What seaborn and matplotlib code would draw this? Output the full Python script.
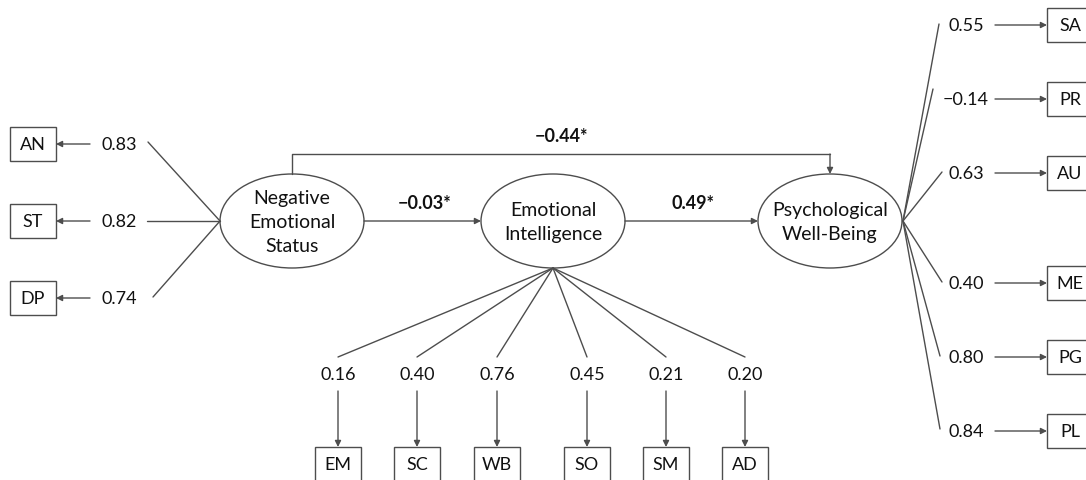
import matplotlib.pyplot as plt
import seaborn as sns
from matplotlib.patches import Ellipse, Rectangle

# path diagram values
factors = ['Negative\nEmotional\nStatus', 'Emotional\nIntelligence', 'Psychological\nWell-Being']
paths = ['\u22120.03*', '0.49*', '\u22120.44*']

nes_items = ['AN', 'ST', 'DP']
nes_loads = ['0.83', '0.82', '0.74']

ei_items = ['EM', 'SC', 'WB', 'SO', 'SM', 'AD']
ei_loads = ['0.16', '0.40', '0.76', '0.45', '0.21', '0.20']

pwb_items = ['SA', 'PR', 'AU', 'ME', 'PG', 'PL']
pwb_loads = ['0.55', '\u22120.14', '0.63', '0.40', '0.80', '0.84']

sns.set_theme(style='white')
plt.rcParams['font.family'] = ['Lato', 'DejaVu Sans']

# layout (pixel coords of the 1086x481 canvas)
W, H = 1086, 481
line_c = '#4d4d4d'
txt_c = '#111111'
fs = 13
cy = 222
ell_w, ell_h = 144, 94
fac_x = [292, 553, 830]
left_y = [145, 222, 299]
left_ends = [(148, 143), (147, 222), (153, 298)]
right_y = [26, 100, 174, 284, 358, 432]
right_ends = [(939, 25), (933, 90), (942, 173), (942, 283), (940, 357), (940, 430)]
bottom_x = [338, 417, 497, 587, 666, 745]

fig = plt.figure(figsize=(W / 100, H / 100), dpi=100)
ax = fig.add_axes([0, 0, 1, 1])
ax.set_xlim(0, W)
ax.set_ylim(H, 0)
ax.axis('off')

arrow = dict(arrowstyle='-|>', mutation_scale=9, lw=1, color=line_c, shrinkA=0, shrinkB=0)


def arr(x0, y0, x1, y1):
    ax.annotate('', xy=(x1, y1), xytext=(x0, y0), arrowprops=arrow)


def box(xc, yc, label, w=46, h=34):
    ax.add_patch(Rectangle((xc - w / 2, yc - h / 2), w, h, fill=False, ec=line_c, lw=1, clip_on=True))
    ax.text(xc, yc, label, ha='center', va='center', fontsize=fs, color=txt_c)


# latent factors
for x, name in zip(fac_x, factors):
    ax.add_patch(Ellipse((x, cy), ell_w, ell_h, fill=False, ec=line_c, lw=1))
    ax.text(x, cy + 1, name, ha='center', va='center', fontsize=14, color=txt_c, linespacing=1.5)

# structural paths
arr(fac_x[0] + ell_w / 2, cy, fac_x[1] - ell_w / 2, cy)
arr(fac_x[1] + ell_w / 2, cy, fac_x[2] - ell_w / 2, cy)
ax.text((fac_x[0] + fac_x[1]) / 2 + 2, 204, paths[0], ha='center', va='center',
        fontsize=fs, fontweight='bold', color=txt_c)
ax.text((fac_x[1] + fac_x[2]) / 2 + 1, 204, paths[1], ha='center', va='center',
        fontsize=fs, fontweight='bold', color=txt_c)
top = cy - ell_h / 2
ax.plot([fac_x[0], fac_x[0], fac_x[2]], [top, 155, 155], color=line_c, lw=1)
arr(fac_x[2], 155, fac_x[2], top)
ax.text(562, 137, paths[2], ha='center', va='center', fontsize=fs, fontweight='bold', color=txt_c)

# negative emotional status indicators
lx = fac_x[0] - ell_w / 2
for y, (ex, ey), item, val in zip(left_y, left_ends, nes_items, nes_loads):
    box(33, y, item)
    arr(90, y, 56, y)
    ax.text(119, y, val, ha='center', va='center', fontsize=fs, color=txt_c)
    ax.plot([ex, lx], [ey, cy], color=line_c, lw=1)

# emotional intelligence indicators
by = cy + ell_h / 2
for x, item, val in zip(bottom_x, ei_items, ei_loads):
    ax.plot([fac_x[1], x], [by, 358], color=line_c, lw=1)
    ax.text(x, 375, val, ha='center', va='center', fontsize=fs, color=txt_c)
    arr(x, 392, x, 448)
    box(x, 465, item, w=46, h=34)

# psychological well-being indicators
rx = fac_x[2] + ell_w / 2 + 1
for y, (ex, ey), item, val in zip(right_y, right_ends, pwb_items, pwb_loads):
    ax.plot([rx, ex], [cy, ey], color=line_c, lw=1)
    ax.text(966, y, val, ha='center', va='center', fontsize=fs, color=txt_c)
    arr(995, y, 1047, y)
    box(1070, y, item)

fig.savefig('out.png', dpi=100, facecolor='white')
